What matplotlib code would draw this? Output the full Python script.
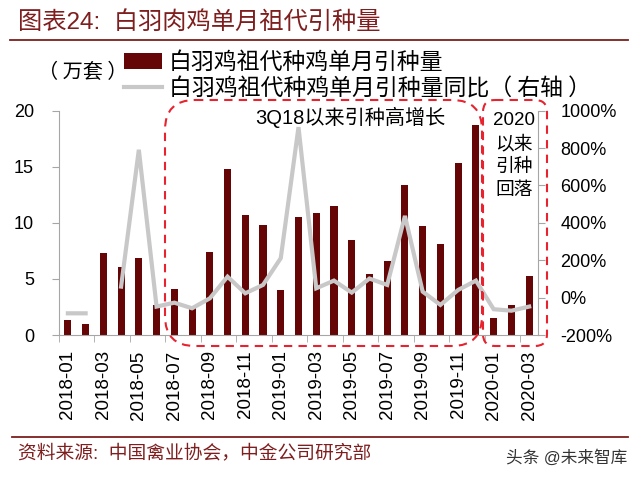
import numpy as np
import matplotlib
matplotlib.use("Agg")
import matplotlib.pyplot as plt
from matplotlib.patches import FancyBboxPatch
from matplotlib.ticker import FuncFormatter

plt.rcParams['font.family'] = ['Liberation Sans', 'Noto Sans CJK SC', 'DejaVu Sans']
CJK = ['Noto Sans CJK SC', 'DejaVu Sans']

# 月份
months = ['2018-01', '2018-02', '2018-03', '2018-04', '2018-05', '2018-06', '2018-07',
          '2018-08', '2018-09', '2018-10', '2018-11', '2018-12', '2019-01', '2019-02',
          '2019-03', '2019-04', '2019-05', '2019-06', '2019-07', '2019-08', '2019-09',
          '2019-10', '2019-11', '2019-12', '2020-01', '2020-02', '2020-03']

# 白羽鸡祖代种鸡单月引种量（万套）
volume = [1.3, 1.0, 7.3, 6.1, 6.9, 2.7, 4.1, 2.4, 7.4, 14.8, 10.7, 9.8, 4.0, 10.5,
          10.9, 11.5, 8.5, 5.4, 6.6, 13.4, 9.7, 8.1, 15.3, 18.7, 1.5, 2.7, 5.3]

# 同比（%，右轴），2018-03 缺失
yoy = [-84, -84, np.nan, 59, 791, -48, -27, -57, -4, 112, 23, 68, 211, 912,
       50, 91, 27, 102, 68, 437, 32, -39, 41, 91, -62, -70, -48]

label_bar = '白羽鸡祖代种鸡单月引种量'
label_line = '白羽鸡祖代种鸡单月引种量同比（ 右轴 ）'

BAR_C = '#650505'
LINE_C = '#C8C8C8'
SPINE_C = '#A6A6A6'
DARK_RED = '#7E1E1E'
BOX_RED = '#E8232F'

fig = plt.figure(figsize=(6.4, 4.78), dpi=100)
ax = fig.add_axes([59 / 640, 1 - 335 / 478, 479 / 640, (335 - 110.7) / 478])

x = np.arange(len(months))
bars = ax.bar(x, volume, width=0.4, color=BAR_C, zorder=2)
ax.set_xlim(-0.5, len(months) - 0.5)
ax.set_ylim(0, 20)
ax.set_yticks(range(0, 21, 5))

ax2 = ax.twinx()
line, = ax2.plot(x, yoy, color=LINE_C, lw=3, solid_joinstyle='miter')
ax2.set_ylim(-200, 1000)
ax2.set_yticks(range(-200, 1001, 200))
ax2.yaxis.set_major_formatter(FuncFormatter(lambda v, p: f'{v:.0f}%'))

for a in (ax, ax2):
    a.spines['top'].set_visible(False)
    for s in ('left', 'right', 'bottom'):
        a.spines[s].set_color(SPINE_C)
ax.spines['right'].set_visible(False)
ax2.spines['left'].set_visible(False)
ax2.spines['bottom'].set_visible(False)

ax.set_xticks(x[::2])
ax.set_xticklabels(months[::2], rotation=90)
ax.set_xticks(np.arange(-0.5, len(months), 2), minor=True)
ax.tick_params(axis='x', which='major', length=0, pad=11, labelsize=13.5)
ax.tick_params(axis='x', which='minor', length=5, color=SPINE_C, direction='out')
ax.tick_params(axis='y', length=5, color=SPINE_C, pad=13, labelsize=13)
ax2.tick_params(axis='y', length=5, color=SPINE_C, pad=11, labelsize=13)

# 图例
fig.legend([bars, line], [label_bar, label_line], loc='upper left',
           bbox_to_anchor=(124 / 640, 1 - 51 / 478), frameon=False,
           prop={'family': CJK, 'size': 16.5}, handlelength=1.65, handleheight=0.7,
           handletextpad=0.3, labelspacing=0.15, borderpad=0, borderaxespad=0)

# 叠加层：标题、注释框、脚注
ov = fig.add_axes([0, 0, 1, 1])
ov.set_xlim(0, 640)
ov.set_ylim(478, 0)
ov.axis('off')
ov.patch.set_alpha(0)

ov.text(18, 22, '图表24:  白羽肉鸡单月祖代引种量', fontsize=17.5, color=DARK_RED, va='center')
ov.plot([10, 628], [40, 40], color=DARK_RED, lw=1.3)
ov.text(38, 72, '（ 万套 ）', fontsize=14.5, va='center', family=CJK)

ov.add_patch(FancyBboxPatch((165, 100), 317, 246, boxstyle='round,pad=0,rounding_size=30',
                            fill=False, ec=BOX_RED, lw=1.5, ls=(0, (4, 3))))
ov.add_patch(FancyBboxPatch((483, 100), 64, 246, boxstyle='round,pad=0,rounding_size=12',
                            fill=False, ec=BOX_RED, lw=1.5, ls=(0, (4, 3))))
ov.text(350, 117, '3Q18以来引种高增长', fontsize=14.5, ha='center', va='center')
ov.text(514, 112, '2020\n以来\n引种\n回落', fontsize=13.5, ha='center', va='top',
        linespacing=1.45)

ov.plot([12, 628], [437, 437], color=DARK_RED, lw=1.3)
ov.text(18, 453, '资料来源:  中国禽业协会，中金公司研究部', fontsize=13.5, color=DARK_RED,
        va='center')
ov.text(627, 458, '头条 @未来智库', fontsize=12, color='#333333', ha='right', va='center')

fig.savefig('out.png', dpi=100)
